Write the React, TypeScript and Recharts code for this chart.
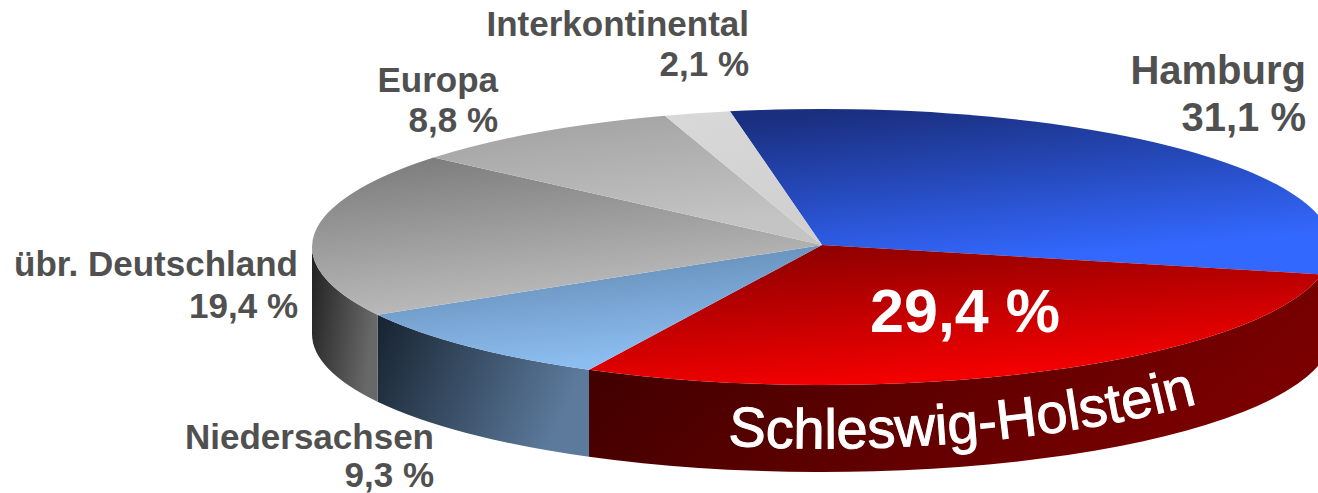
import { PieChart, Pie } from "recharts";

const CATEGORIES = ["Hamburg", "Schleswig-Holstein", "Niedersachsen", "übr. Deutschland", "Europa", "Interkontinental"];
const SHARES = [31.1, 29.4, 9.3, 19.4, 8.8, 2.1];

const TOP_COLORS = [
  ["#1a2f80", "#3368ff"],
  ["#8c0000", "#f20000"],
  ["#5f86ae", "#8cbdf0"],
  ["#7e7e7e", "#bcbcbc"],
  ["#a2a2a2", "#c4c4c4"],
  ["#d8d8d8", "#d0d0d0"],
];
const WALL_COLORS = [
  ["#700000", "#700000"],
  ["#380000", "#7a0000"],
  ["#16222f", "#5c7a9c"],
  ["#202020", "#686868"],
  ["#808080", "#808080"],
  ["#808080", "#808080"],
];

// right edge and baselines of the two label lines
const LABEL_POS = [
  { x: 1306, y1: 84, y2: 131, size: 40 },
  null,
  { x: 434, y1: 449, y2: 487, size: 35 },
  { x: 298, y1: 276, y2: 318, size: 35 },
  { x: 498, y1: 92, y2: 132, size: 35 },
  { x: 749, y1: 36, y2: 76, size: 35 },
];

const WIDTH = 1318;
const HEIGHT = 493;
const CX = 822;
const CY = 247;
const APEX_Y = 245;
const RX = 510;
const RY = 138;
const DEPTH = 87;
const START = 100.4;
const FONT = "'Liberation Sans', Arial, sans-serif";

const data = CATEGORIES.map((name, i) => ({ name, value: SHARES[i] }));

function formatShare(v: number): string {
  return `${v.toFixed(1).replace(".", ",")} %`;
}

function pt(deg: number, dy = 0): string {
  const a = (deg * Math.PI) / 180;
  return `${(CX + RX * Math.cos(a)).toFixed(2)} ${(CY + dy - RY * Math.sin(a)).toFixed(2)}`;
}

function TopSlice(props: any) {
  const { startAngle, endAngle, index } = props;
  const large = Math.abs(endAngle - startAngle) > 180 ? 1 : 0;
  const d = `M ${CX} ${APEX_Y} L ${pt(startAngle)} A ${RX} ${RY} 0 ${large} 1 ${pt(endAngle)} Z`;
  return <path d={d} fill={`url(#top${index})`} />;
}

// only the part of a slice between 0 and -180 degrees faces the viewer
function WallSlice(props: any) {
  const { startAngle, endAngle, index } = props;
  const a1 = Math.min(startAngle, 0);
  const a2 = Math.max(endAngle, -180);
  if (a1 <= a2) return <g />;
  const d =
    `M ${pt(a1)} A ${RX} ${RY} 0 0 1 ${pt(a2)} ` +
    `L ${pt(a2, DEPTH)} A ${RX} ${RY} 0 0 0 ${pt(a1, DEPTH)} Z`;
  return <path d={d} fill={`url(#wall${index})`} />;
}

function SliceLabel(props: any) {
  const { index, value, name } = props;
  const pos = LABEL_POS[index];
  if (!pos) {
    return (
      <g>
        <text x={965} y={332} textAnchor="middle" fontFamily={FONT} fontWeight="bold" fontSize={61} fill="#ffffff">
          {formatShare(value)}
        </text>
        <text fontFamily={FONT} fontSize={56} fill="#ffffff" stroke="#ffffff" strokeWidth={1}>
          <textPath href="#rimText">{name}</textPath>
        </text>
      </g>
    );
  }
  return (
    <g fontFamily={FONT} fontWeight="bold" fontSize={pos.size} fill="#505050" textAnchor="end">
      <text x={pos.x} y={pos.y1}>{name}</text>
      <text x={pos.x} y={pos.y2}>{formatShare(value)}</text>
    </g>
  );
}

export default function App() {
  return (
    <div style={{ position: "absolute", left: 0, top: 0, width: WIDTH, height: HEIGHT, overflow: "hidden" }}>
      <PieChart width={WIDTH} height={HEIGHT} margin={{ top: 0, right: 0, bottom: 0, left: 0 }}>
        <defs>
          {TOP_COLORS.map((c, i) => (
            <linearGradient key={i} id={`top${i}`} x1="0.25" y1="0" x2="0.6" y2="1">
              <stop offset="0" stopColor={c[0]} />
              <stop offset="0.9" stopColor={c[1]} />
            </linearGradient>
          ))}
          {WALL_COLORS.map((c, i) => (
            <linearGradient key={i} id={`wall${i}`} x1="0" y1="0" x2="1" y2="0.3">
              <stop offset="0" stopColor={c[0]} />
              <stop offset="1" stopColor={c[1]} />
            </linearGradient>
          ))}
          <path id="rimText" d="M 728 445 C 850 455, 1050 445, 1200 403" fill="none" />
        </defs>
        <Pie
          data={data}
          dataKey="value"
          nameKey="name"
          cx={CX}
          cy={CY}
          outerRadius={RX}
          startAngle={START}
          endAngle={START - 360}
          stroke="none"
          shape={WallSlice}
          isAnimationActive={false}
        />
        <Pie
          data={data}
          dataKey="value"
          nameKey="name"
          cx={CX}
          cy={CY}
          outerRadius={RX}
          startAngle={START}
          endAngle={START - 360}
          stroke="none"
          shape={TopSlice}
          label={SliceLabel}
          labelLine={false}
          isAnimationActive={false}
        />
      </PieChart>
    </div>
  );
}
